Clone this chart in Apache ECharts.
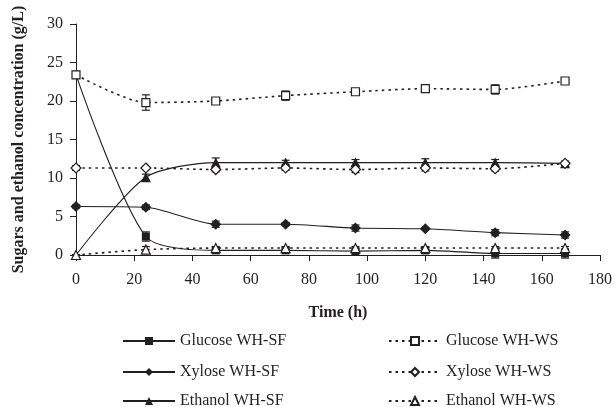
<!DOCTYPE html>
<html>
<head>
<meta charset="utf-8">
<script src="https://cdn.jsdelivr.net/npm/echarts@6/dist/echarts.min.js"></script>
<style>html,body{margin:0;padding:0;background:#fff}#c{width:615px;height:407px}</style>
</head>
<body>
<div id="c"></div>
<script>
var times = [0, 24, 48, 72, 96, 120, 144, 168];
var glucoseSF = [23.4, 2.4, 0.6, 0.6, 0.5, 0.6, 0.2, 0.2];
var xyloseSF = [6.3, 6.2, 4.0, 4.0, 3.5, 3.4, 2.9, 2.6];
var ethanolSF = [0, 10.1, 12.0, 12.0, 12.0, 12.0, 12.0, 11.9];
var glucoseWS = [23.4, 19.8, 20.0, 20.7, 21.2, 21.6, 21.5, 22.6];
var xyloseWS = [11.3, 11.3, 11.1, 11.3, 11.1, 11.3, 11.2, 11.9];
var ethanolWS = [0, 0.7, 0.9, 0.9, 0.9, 0.9, 0.9, 0.9];
var glucoseSFErr = [0.3, 0.6, 0.3, 0.3, 0.3, 0.4, 0.6, 0.6];
var xyloseSFErr = [0.2, 0.3, 0.4, 0.2, 0.4, 0.1, 0.4, 0.4];
var ethanolSFErr = [0, 0.4, 0.6, 0.3, 0.4, 0.5, 0.4, 0.3];
var glucoseWSErr = [0.4, 1.0, 0.4, 0.6, 0.3, 0.3, 0.6, 0.3];
var xyloseWSErr = [0.3, 0.2, 0.3, 0.3, 0.4, 0.4, 0.3, 0.2];
var ethanolWSErr = [0, 0.4, 0.2, 0.2, 0.2, 0.2, 0.2, 0.2];
var names = ['Glucose WH-SF', 'Xylose WH-SF', 'Ethanol WH-SF', 'Glucose WH-WS', 'Xylose WH-WS', 'Ethanol WH-WS'];

var FONT = '"Liberation Serif", "Times New Roman", serif';
var INK = '#231f20';

function pairs(v) { return times.map(function (t, i) { return [t, v[i]]; }); }
function errData(v, e) { return times.map(function (t, i) { return [t, v[i] - e[i], v[i] + e[i]]; }); }

function errSeries(v, e) {
  return {
    type: 'custom', silent: true, z: 1,
    data: errData(v, e),
    renderItem: function (params, api) {
      var lo = api.coord([api.value(0), api.value(1)]);
      var hi = api.coord([api.value(0), api.value(2)]);
      var hw = 4;
      var st = { stroke: INK, lineWidth: 1.2 };
      return { type: 'group', children: [
        { type: 'line', shape: { x1: lo[0], y1: lo[1], x2: hi[0], y2: hi[1] }, style: st },
        { type: 'line', shape: { x1: lo[0] - hw, y1: lo[1], x2: lo[0] + hw, y2: lo[1] }, style: st },
        { type: 'line', shape: { x1: hi[0] - hw, y1: hi[1], x2: hi[0] + hw, y2: hi[1] }, style: st }
      ] };
    }
  };
}

function lineSeries(name, v, symbol, size, filled, dotted) {
  return {
    name: name, type: 'line', data: pairs(v), smooth: 0.25,
    symbol: symbol, symbolSize: size, z: 3,
    lineStyle: { color: INK, width: dotted ? 1.6 : 1.1, type: dotted ? [2.5, 4] : 'solid' },
    itemStyle: { color: filled ? INK : '#fff', borderColor: INK, borderWidth: filled ? 0 : 1.2 }
  };
}

var series = [
  errSeries(glucoseSF, glucoseSFErr),
  errSeries(xyloseSF, xyloseSFErr),
  errSeries(ethanolSF, ethanolSFErr),
  errSeries(glucoseWS, glucoseWSErr),
  errSeries(xyloseWS, xyloseWSErr),
  errSeries(ethanolWS, ethanolWSErr),
  lineSeries(names[0], glucoseSF, 'rect', 8, true, false),
  lineSeries(names[1], xyloseSF, 'diamond', 11, true, false),
  lineSeries(names[2], ethanolSF, 'triangle', 10, true, false),
  lineSeries(names[3], glucoseWS, 'rect', 8, false, true),
  lineSeries(names[4], xyloseWS, 'diamond', 10, false, true),
  lineSeries(names[5], ethanolWS, 'triangle', 9, false, true)
];

var legendText = { fontFamily: FONT, fontSize: 16, color: INK };
var legendLefts = [122, 122, 122, 388, 388, 388];
var legendTops = [333, 364, 393, 333, 364, 393];
var legends = names.map(function (n, i) {
  return { data: [n], left: legendLefts[i], top: legendTops[i], padding: 0, itemWidth: 52, itemHeight: 10,
           textStyle: legendText, selectedMode: false };
});

var option = {
  animation: false,
  backgroundColor: '#fff',
  grid: { left: 76, right: 13, top: 24, bottom: 152, containLabel: false },
  legend: legends,
  xAxis: {
    type: 'value', min: 0, max: 180, interval: 20,
    name: 'Time (h)', nameLocation: 'middle', nameGap: 50,
    nameTextStyle: { fontFamily: FONT, fontSize: 16, fontWeight: 'bold', color: INK },
    axisLine: { lineStyle: { color: INK, width: 1 } },
    axisTick: { show: true, length: 6, lineStyle: { color: INK } },
    axisLabel: { fontFamily: FONT, fontSize: 16, color: INK, margin: 17 },
    splitLine: { show: false }
  },
  yAxis: {
    type: 'value', min: 0, max: 30, interval: 5,
    name: 'Sugars and ethanol concentration (g/L)', nameLocation: 'middle', nameGap: 49,
    nameTextStyle: { fontFamily: FONT, fontSize: 16, fontWeight: 'bold', color: INK },
    axisLine: { show: true, lineStyle: { color: INK, width: 1 } },
    axisTick: { show: true, length: 6, lineStyle: { color: INK } },
    axisLabel: { fontFamily: FONT, fontSize: 16, color: INK, margin: 13 },
    splitLine: { show: false }
  },
  series: series
};

var chart = echarts.init(document.getElementById('c'), null, { renderer: 'canvas' });
chart.setOption(option);
</script>
</body>
</html>
